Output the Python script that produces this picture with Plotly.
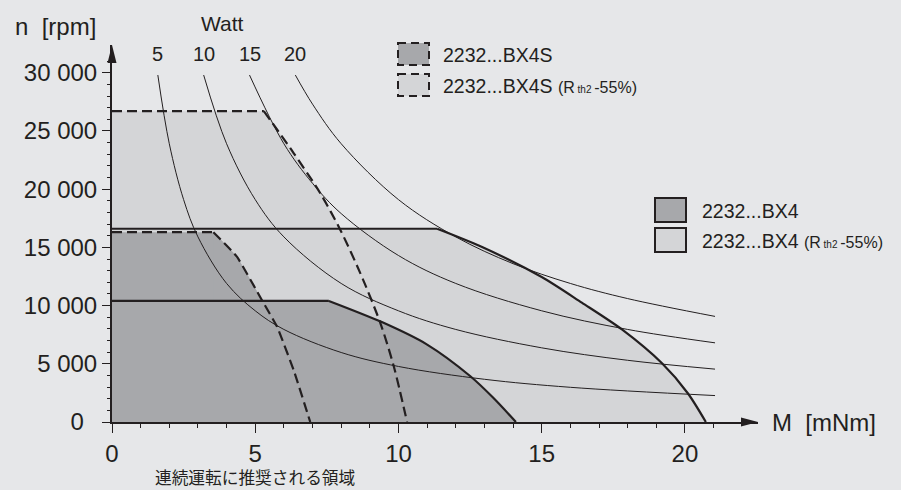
import plotly.graph_objects as go

# ---------------- data ----------------
# operating ranges: torque M [mNm] vs speed n [rpm]
bx4_M = [0, 7.57, 9.4, 11.0, 12.5, 13.3, 14.1]
bx4_n = [10400, 10400, 8600, 6650, 3950, 2100, 0]

bx4r_M = [0, 11.35, 12.9, 15.0, 16.4, 17.8, 19.2, 20.1, 20.73]
bx4r_n = [16600, 16600, 15050, 12450, 10250, 7950, 5040, 2470, 0]

bx4s_M = [0, 3.54, 4.36, 5.23, 5.76, 6.34, 6.92]
bx4s_n = [16300, 16300, 14200, 10480, 8190, 4470, 0]

bx4sr_M = [0, 5.3, 6.34, 7.27, 7.97, 8.67, 9.37, 9.84, 10.3]
bx4sr_n = [26700, 26700, 23100, 19650, 16500, 12770, 8480, 4750, 0]

# iso-power lines (Watt)
watt_levels = [5, 10, 15, 20]
w5_M = [1.6, 2.0, 2.5, 3.0, 4.0, 5.0, 6.0, 8.0, 10.0, 13.0, 16.0, 21.05]
w5_n = [29800, 23900, 19100, 15900, 11900, 9550, 7950, 5970, 4770, 3670, 2980, 2270]
w10_M = [3.2, 4.0, 5.0, 6.0, 8.0, 10.0, 12.0, 15.0, 18.0, 21.05]
w10_n = [29800, 23900, 19100, 15900, 11900, 9550, 7950, 6370, 5300, 4540]
w15_M = [4.8, 6.0, 7.0, 8.0, 10.0, 12.0, 15.0, 18.0, 21.05]
w15_n = [29800, 23900, 20500, 17900, 14300, 11900, 9550, 7950, 6800]
w20_M = [6.4, 7.0, 8.0, 10.0, 12.0, 14.0, 16.0, 18.0, 21.05]
w20_n = [29800, 27300, 23900, 19100, 15900, 13600, 11900, 10600, 9070]

# axes
x_tickvals = [0, 5, 10, 15, 20]
x_ticktext = ["0", "5", "10", "15", "20"]
x_minor = [1, 2, 3, 4, 6, 7, 8, 9, 11, 12, 13, 14, 16, 17, 18, 19, 21]
y_tickvals = [0, 5000, 10000, 15000, 20000, 25000, 30000]
y_ticktext = ["0\u00a0\u00a0", "5 000", "10 000", "15 000", "20 000", "25 000", "30 000"]
y_minor = [v for v in range(1000, 31001, 1000) if v % 5000 != 0]

legend_top = ["2232...BX4S", "2232...BX4S"]
legend_right = ["2232...BX4", "2232...BX4"]
rth_suffix = ("<span style='font-size:16px'>(R</span><span style='font-size:10px'>\u00a0th2\u00a0</span>"
              "<span style='font-size:16px'>-55%)</span>")

# ---------------- style ----------------
BG = "#e6e7e9"
DARK = "#a7a8ab"
LIGHT = "#d4d5d7"
INK = "#231f20"
FONT = "Liberation Sans, Arial, Helvetica, sans-serif"

X0, X1 = 112, 758   # plot area pixels
Y0, Y1 = 422, 45
XR = 22.55
YR = 32380


def px(xp):
    return (xp - X0) / (X1 - X0)


def py(yp):
    return (Y0 - yp) / (Y0 - Y1)


fig = go.Figure()


def curve_line(shape, smooth):
    d = dict(shape=shape)
    if shape == "spline":
        d["smoothing"] = smooth
    return d


def add_region(M, n, color, shape="spline", smooth=0.8):
    # polygon fill (linear), then fill of the curved part
    fig.add_trace(go.Scatter(x=M, y=n, mode="lines", fill="tozeroy", fillcolor=color,
                             line=dict(width=0, color=color), hoverinfo="skip"))
    fig.add_trace(go.Scatter(x=M[1:], y=n[1:], mode="lines", fill="tozeroy", fillcolor=color,
                             line=dict(width=0, color=color, **curve_line(shape, smooth)),
                             hoverinfo="skip"))


def add_outline(M, n, dash, lw, shape="spline", smooth=0.8):
    fig.add_trace(go.Scatter(x=M[:2], y=n[:2], mode="lines",
                             line=dict(width=lw, color=INK, dash=dash), hoverinfo="skip"))
    fig.add_trace(go.Scatter(x=M[1:], y=n[1:], mode="lines",
                             line=dict(width=lw, color=INK, dash=dash, **curve_line(shape, smooth)),
                             hoverinfo="skip"))


add_region(bx4r_M, bx4r_n, LIGHT)
add_region(bx4sr_M, bx4sr_n, LIGHT)
add_region(bx4s_M, bx4s_n, DARK, "spline", 0.35)
add_region(bx4_M, bx4_n, DARK)

for M, n in [(w5_M, w5_n), (w10_M, w10_n), (w15_M, w15_n), (w20_M, w20_n)]:
    fig.add_trace(go.Scatter(x=M, y=n, mode="lines",
                             line=dict(width=1, color=INK, shape="spline", smoothing=1),
                             hoverinfo="skip"))

DASH = "10px,5px"
add_outline(bx4r_M, bx4r_n, "solid", 2.2)
add_outline(bx4_M, bx4_n, "solid", 2.2)
add_outline(bx4sr_M, bx4sr_n, DASH, 2.2)
add_outline(bx4s_M, bx4s_n, DASH, 2.2, "spline", 0.35)

shapes = []
# axis arrowheads
shapes.append(dict(type="path", xref="paper", yref="paper",
                   path=f"M {px(107.5)} {py(63)} L {px(112)} {py(45)} L {px(116.5)} {py(63)} Z",
                   fillcolor=INK, line=dict(width=0)))
shapes.append(dict(type="path", xref="paper", yref="paper",
                   path=f"M {px(741)} {py(417.5)} L {px(758)} {py(422)} L {px(741)} {py(426.5)} Z",
                   fillcolor=INK, line=dict(width=0)))


def box(x0, y0, x1, y1, fill, dash):
    shapes.append(dict(type="rect", xref="paper", yref="paper",
                       x0=px(x0), x1=px(x1), y0=py(y0), y1=py(y1),
                       fillcolor=fill, line=dict(color=INK, width=2, dash=dash)))


box(398, 43, 429, 65, DARK, "8px,5px")
box(398, 74, 429, 96, LIGHT, "8px,5px")
box(655, 198, 686, 222, DARK, "solid")
box(655, 228, 686, 252, LIGHT, "solid")

ann = []


def text(x, y, s, size, xanchor="left", font=FONT):
    ann.append(dict(xref="paper", yref="paper", x=px(x), y=py(y), text=s, showarrow=False,
                    xanchor=xanchor, yanchor="middle", font=dict(size=size, color=INK, family=font)))


text(13, 26, "n\u00a0\u00a0[rpm]", 24)
text(770, 422, "M\u00a0\u00a0[mNm]", 24)
text(222, 23, "Watt", 21, "center")
text(255, 477, "連続運転に推奨される領域", 16.7, "center",
     "Noto Sans CJK JP, Noto Sans CJK SC, sans-serif")
text(441, 55, legend_top[0], 19.5)
text(441, 86, legend_top[1] + " " + rth_suffix, 19.5)
text(700, 211, legend_right[0], 19.5)
text(700, 241, legend_right[1] + " " + rth_suffix, 19.5)

for lvl, M in zip(watt_levels, [w5_M, w10_M, w15_M, w20_M]):
    ann.append(dict(xref="x", yref="y", x=M[0], y=31600, text=str(lvl), showarrow=False,
                    xanchor="center", yanchor="middle", font=dict(size=20, color=INK, family=FONT)))

fig.update_layout(
    width=901, height=490,
    margin=dict(l=X0, r=901 - X1, t=Y1, b=490 - Y0, pad=0),
    paper_bgcolor=BG, plot_bgcolor=BG, showlegend=False,
    font=dict(family=FONT, color=INK),
    shapes=shapes, annotations=ann,
    xaxis=dict(range=[0, XR], showgrid=False, zeroline=False, showline=True, linewidth=2,
               linecolor=INK, ticks="outside", ticklen=9, tickwidth=1.2, tickcolor=INK,
               tickmode="array", tickvals=x_tickvals, ticktext=x_ticktext,
               tickfont=dict(size=24, color=INK, family=FONT),
               minor=dict(tickmode="array", tickvals=x_minor, ticks="outside", ticklen=4,
                          tickcolor=INK, tickwidth=1, showgrid=False),
               fixedrange=True),
    yaxis=dict(range=[0, YR], showgrid=False, zeroline=False, showline=True, linewidth=2,
               linecolor=INK, ticks="outside", ticklen=8, tickwidth=1.2, tickcolor=INK,
               tickmode="array", tickvals=y_tickvals, ticktext=y_ticktext,
               tickfont=dict(size=24, color=INK, family=FONT),
               minor=dict(tickmode="array", tickvals=y_minor, ticks="outside", ticklen=3,
                          tickcolor=INK, tickwidth=1, showgrid=False),
               fixedrange=True),
)

fig.write_html("out.html", config={"displayModeBar": False},
               post_script="document.body.style.margin='0px';document.body.style.overflow='hidden';")
